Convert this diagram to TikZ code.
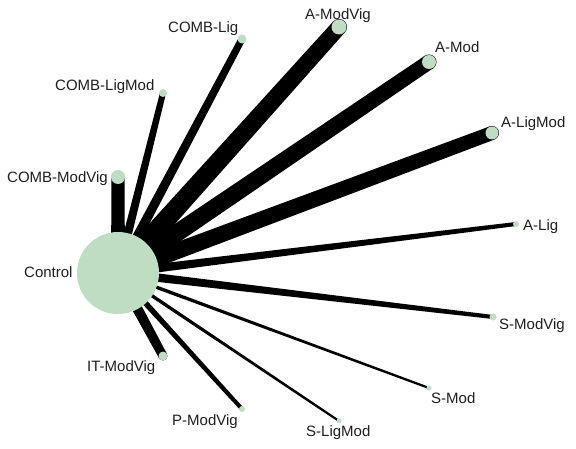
\documentclass[tikz,border=0pt]{standalone}
\usepackage{fontspec}
\setmainfont{Liberation Sans}
\usetikzlibrary{calc}
\definecolor{nodefill}{RGB}{191,221,195}
\definecolor{labtext}{RGB}{30,30,30}
\tikzset{
  trt/.style={circle,fill=nodefill,draw=none,inner sep=0pt,minimum size=#1},
  lab/.style={inner sep=0pt,anchor=base west,text=labtext,font=\fontsize{15}{18}\selectfont},
}
% tapered edge: from, to, half width at from, half width at to
\newcommand\taperedge[4]{%
  \fill[black] ($(#1)!#3!90:(#2)$) -- ($(#2)!#4!-90:(#1)$) -- ($(#2)!#4!90:(#1)$) -- ($(#1)!#3!-90:(#2)$) -- cycle;
  \fill[black] (#2) circle (#4);}
\begin{document}
\begin{tikzpicture}[x=1pt,y=-1pt]
\useasboundingbox (0,0) rectangle (576,449);
% node centres
\coordinate (c) at (118,273);
\coordinate (cmv) at (118,177);
\coordinate (clm) at (163,93);
\coordinate (cl) at (242,39);
\coordinate (amv) at (339,27);
\coordinate (am) at (429,62);
\coordinate (alm) at (492,133);
\coordinate (al) at (516,224);
\coordinate (smv) at (493,317);
\coordinate (sm) at (429,388);
\coordinate (slm) at (339,421);
\coordinate (pmv) at (242,409);
\coordinate (itmv) at (163,356);
% edges
\taperedge{c}{cmv}{7pt}{6.5pt}
\taperedge{c}{clm}{4.5pt}{3pt}
\taperedge{c}{cl}{5pt}{3.5pt}
\taperedge{c}{amv}{10pt}{8pt}
\taperedge{c}{am}{9pt}{7.5pt}
\taperedge{c}{alm}{8.5pt}{7pt}
\taperedge{c}{al}{4.5pt}{2pt}
\taperedge{c}{smv}{4.5pt}{2pt}
\taperedge{c}{sm}{1.8pt}{1.1pt}
\taperedge{c}{slm}{1.8pt}{1.1pt}
\taperedge{c}{pmv}{3pt}{2pt}
\taperedge{c}{itmv}{5.5pt}{4.5pt}
% circles
\node[trt=82pt] (nc) at (c) {};
\node[trt=14pt] (ncmv) at (cmv) {};
\node[trt=8pt] (nclm) at (clm) {};
\node[trt=9pt] (ncl) at (cl) {};
\node[trt=15pt] (namv) at (amv) {};
\node[trt=14pt] (nam) at (am) {};
\node[trt=13pt] (nalm) at (alm) {};
\node[trt=6pt] (nal) at (al) {};
\node[trt=7pt] (nsmv) at (smv) {};
\node[trt=5pt] (nsm) at (sm) {};
\node[trt=5pt] (nslm) at (slm) {};
\node[trt=6pt] (npmv) at (pmv) {};
\node[trt=9pt] (nitmv) at (itmv) {};
% labels
\node[lab] (lc) at (24,278) {Control};
\node[lab] (lcmv) at (7,183) {COMB-ModVig};
\node[lab] (lclm) at (55,91) {COMB-LigMod};
\node[lab] (lcl) at (168,33) {COMB-Lig};
\node[lab] (lamv) at (305,20) {A-ModVig};
\node[lab] (lam) at (435,53) {A-Mod};
\node[lab] (lalm) at (501,128) {A-LigMod};
\node[lab] (lal) at (523,231) {A-Lig};
\node[lab] (lsmv) at (499,330) {S-ModVig};
\node[lab] (lsm) at (431,403) {S-Mod};
\node[lab] (lslm) at (306,436) {S-LigMod};
\node[lab] (lpmv) at (172,425) {P-ModVig};
\node[lab] (litmv) at (87,371) {IT-ModVig};
\end{tikzpicture}
\end{document}
